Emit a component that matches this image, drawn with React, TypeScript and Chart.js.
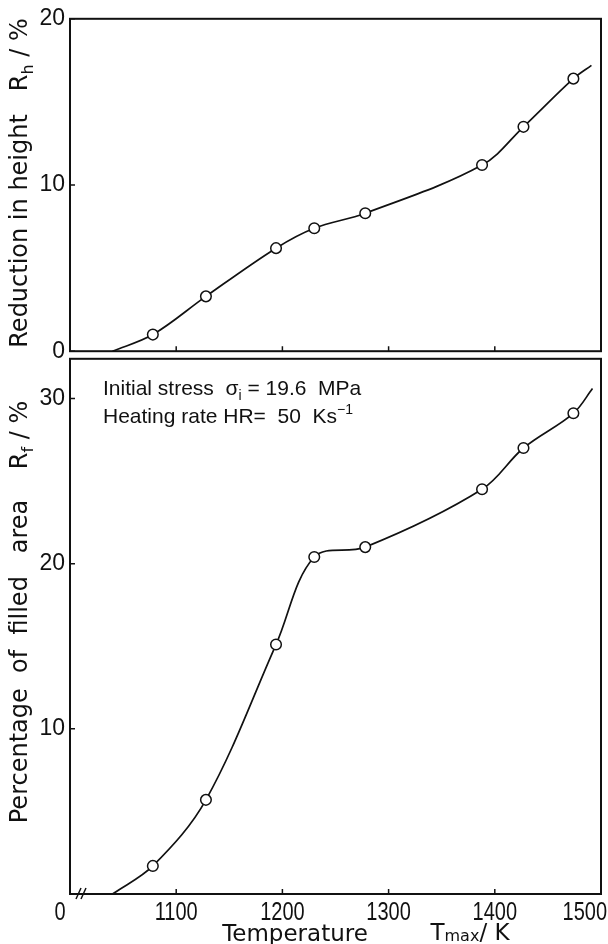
import React, { useEffect, useRef } from 'react';
import { Chart, registerables } from 'chart.js';

Chart.register(...registerables);

// ---- data ----
const temperatureK = [1078, 1128, 1194, 1230, 1278, 1388, 1427, 1474];
const heightReductionPct = [1.0, 3.3, 6.2, 7.4, 8.3, 11.2, 13.5, 16.4];
const filledAreaPct = [1.7, 5.7, 15.1, 20.4, 21.0, 24.5, 27.0, 29.1];
const curveStartK = 1040;
const heightCurveEnd = [1491, 17.2];
const areaCurveEnd = [1492, 30.6];

const xTickValues = [1000, 1100, 1200, 1300, 1400, 1500];
const xTickLabels = ['0', '1100', '1200', '1300', '1400', '1500'];
const heightTicks = [0, 10, 20];
const areaTicks = [10, 20, 30];

const X_MIN = 1000;
const X_MAX = 1500;
const H_MAX = 20;
const A_MAX = 32.4;

const INK = '#111';
const TITLE_FONT = "'DejaVu Sans', sans-serif";
const TEXT_FONT = "'Liberation Sans', Arial, sans-serif";

type Seg = { t: string; sub?: boolean; sup?: boolean; lift?: number };

function drawRich(ctx: CanvasRenderingContext2D, segs: Seg[], x: number, y: number, size: number, family: string, align: 'left' | 'center') {
  const small = Math.round(size * 0.68);
  const fontOf = (s: Seg) => `${s.sub || s.sup ? small : size}px ${family}`;
  const widths = segs.map((s) => {
    ctx.font = fontOf(s);
    return ctx.measureText(s.t).width;
  });
  const total = widths.reduce((a, b) => a + b, 0);
  let cx = align === 'center' ? x - total / 2 : x;
  ctx.textAlign = 'left';
  ctx.textBaseline = 'alphabetic';
  segs.forEach((s, i) => {
    ctx.font = fontOf(s);
    const dy = s.lift !== undefined ? s.lift * size : s.sub ? size * 0.25 : s.sup ? -size * 0.42 : 0;
    ctx.fillText(s.t, cx, y + dy);
    cx += widths[i];
  });
}

type PanelOpts = {
  yTicks: number[];
  title: Seg[];
  titleX: number;
  titleCenterY: number;
  bottom: boolean;
};

function panelPlugin(o: PanelOpts) {
  return {
    id: 'panelDecor',
    afterDraw(chart: any) {
      const ctx: CanvasRenderingContext2D = chart.ctx;
      const a = chart.chartArea;
      const xs = chart.scales.x;
      const ys = chart.scales.y;
      ctx.save();
      ctx.strokeStyle = INK;
      ctx.fillStyle = INK;
      ctx.lineWidth = 2;
      ctx.strokeRect(a.left, a.top, a.right - a.left, a.bottom - a.top);
      ctx.lineWidth = 1.5;
      ctx.beginPath();
      xTickValues.forEach((v) => {
        if (v <= X_MIN || v >= X_MAX) return;
        const px = xs.getPixelForValue(v);
        ctx.moveTo(px, a.bottom);
        ctx.lineTo(px, a.bottom - 5);
      });
      o.yTicks.forEach((v) => {
        const py = ys.getPixelForValue(v);
        ctx.moveTo(a.left, py);
        ctx.lineTo(a.left + 5, py);
      });
      ctx.stroke();

      // rotated y title
      ctx.save();
      ctx.translate(o.titleX, o.titleCenterY);
      ctx.rotate(-Math.PI / 2);
      drawRich(ctx, o.title, 0, 8, 24, TITLE_FONT, 'center');
      ctx.restore();

      if (o.bottom) {
        // axis break marks
        ctx.lineWidth = 1.5;
        ctx.beginPath();
        const bx = a.left + 6;
        ctx.moveTo(bx, a.bottom + 5);
        ctx.lineTo(bx + 5, a.bottom - 6);
        ctx.moveTo(bx + 5, a.bottom + 5);
        ctx.lineTo(bx + 10, a.bottom - 6);
        ctx.stroke();

        // x tick labels (condensed)
        const lblSize = 25;
        ctx.font = `${lblSize}px ${TEXT_FONT}`;
        ctx.textBaseline = 'alphabetic';
        ctx.textAlign = 'center';
        const sx = 0.8;
        xTickValues.forEach((v, i) => {
          let px = xs.getPixelForValue(v);
          const w = ctx.measureText(xTickLabels[i]).width * sx;
          if (i === 0) px -= 10;
          px = Math.min(px, chart.width - w / 2 - 1);
          ctx.save();
          ctx.translate(px, a.bottom + 26);
          ctx.scale(sx, 1);
          ctx.fillText(xTickLabels[i], 0, 0);
          ctx.restore();
        });

        // x title
        drawRich(ctx, [{ t: 'Temperature' }], 295, a.bottom + 47, 23, TITLE_FONT, 'center');
        drawRich(ctx, [{ t: 'T' }, { t: 'max', sub: true, lift: 0.06 }, { t: '/ K' }], 470, a.bottom + 46, 23, TITLE_FONT, 'center');

        // annotation
        drawRich(ctx, [{ t: 'Initial stress  σ' }, { t: 'i', sub: true }, { t: ' = 19.6  MPa' }], 103, a.top + 36, 21, TEXT_FONT, 'left');
        drawRich(ctx, [{ t: 'Heating rate HR=  50  Ks' }, { t: '−1', sup: true }], 103, a.top + 64, 21, TEXT_FONT, 'left');
      }
      ctx.restore();
    },
  };
}

function buildConfig(xsPts: number[], ys: number[], end: number[], yMax: number, tickValues: number[], padding: any, plugin: any) {
  const markers = xsPts.map((x, i) => ({ x, y: ys[i] }));
  const curve = [{ x: curveStartK, y: 0 }, ...markers, { x: end[0], y: end[1] }];
  return {
    type: 'line' as const,
    data: {
      datasets: [
        {
          data: markers,
          showLine: false,
          pointRadius: 5.3,
          pointHoverRadius: 5.3,
          pointBackgroundColor: '#fff',
          pointBorderColor: INK,
          pointBorderWidth: 1.5,
        },
        {
          data: curve,
          borderColor: INK,
          borderWidth: 1.7,
          pointRadius: 0,
          tension: 0.35,
          fill: false,
        },
      ],
    },
    options: {
      animation: false as const,
      responsive: false,
      devicePixelRatio: 1,
      layout: { padding },
      plugins: { legend: { display: false }, tooltip: { enabled: false } },
      events: [] as any[],
      scales: {
        x: { type: 'linear' as const, min: X_MIN, max: X_MAX, display: false },
        y: {
          type: 'linear' as const,
          min: 0,
          max: yMax,
          afterBuildTicks: (s: any) => {
            s.ticks = tickValues.map((v) => ({ value: v }));
          },
          afterFit: (s: any) => {
            s.width = 70;
          },
          grid: { display: false, drawTicks: false },
          border: { display: false },
          ticks: {
            padding: 5,
            color: INK,
            font: { family: TEXT_FONT, size: 23 },
            callback: (v: any) => String(v),
          },
        },
      },
    },
    plugins: [plugin],
  };
}

export default function App() {
  const topRef = useRef<HTMLCanvasElement>(null);
  const botRef = useRef<HTMLCanvasElement>(null);

  useEffect(() => {
    document.body.style.margin = '0';
    const top = new Chart(
      topRef.current as HTMLCanvasElement,
      buildConfig(
        temperatureK,
        heightReductionPct,
        heightCurveEnd,
        H_MAX,
        heightTicks,
        { left: 0, right: 7, top: 18, bottom: 18 },
        panelPlugin({
          yTicks: heightTicks,
          title: [{ t: 'Reduction in height   R' }, { t: 'h', sub: true }, { t: ' / %' }],
          titleX: 19,
          titleCenterY: 183,
          bottom: false,
        })
      ) as any
    );
    const bot = new Chart(
      botRef.current as HTMLCanvasElement,
      buildConfig(
        temperatureK,
        filledAreaPct,
        areaCurveEnd,
        A_MAX,
        areaTicks,
        { left: 0, right: 7, top: 12, bottom: 50 },
        panelPlugin({
          yTicks: areaTicks,
          title: [{ t: 'Percentage  of  filled   area    R' }, { t: 'f', sub: true }, { t: ' / %' }],
          titleX: 19,
          titleCenterY: 612 - 340,
          bottom: true,
        })
      ) as any
    );
    return () => {
      top.destroy();
      bot.destroy();
    };
  }, []);

  return (
    <div style={{ position: 'absolute', left: 0, top: 0, width: 608, height: 944, background: '#fff', overflow: 'hidden' }}>
      <canvas ref={topRef} width={608} height={370} style={{ position: 'absolute', left: 0, top: 0 }} />
      <canvas ref={botRef} width={608} height={604} style={{ position: 'absolute', left: 0, top: 340 }} />
    </div>
  );
}
